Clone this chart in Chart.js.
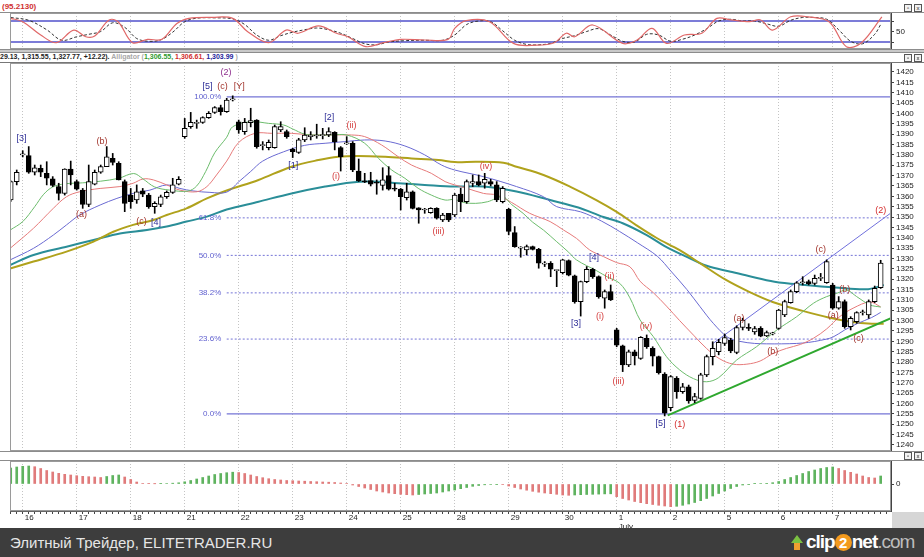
<!DOCTYPE html>
<html>
<head>
<meta charset="utf-8">
<title>RTS 1H — Alligator</title>
<script src="https://cdn.jsdelivr.net/npm/chart.js@4.4.1/dist/chart.umd.min.js"></script>
<style>
  html, body { margin: 0; padding: 0; }
  body { width: 924px; height: 557px; position: relative; overflow: hidden; background: #fff;
         font-family: 'Liberation Sans', Arial, sans-serif; }
  canvas { position: absolute; left: 0; display: block; }
  .line { position: absolute; left: 0; width: 924px; }
  .btns { position: absolute; left: 904px; height: 7px; z-index: 4; }
  .btns span { display: inline-block; width: 6px; height: 6px; border: 1px solid #555; margin-right: 2px;
               font-size: 6px; line-height: 6px; text-align: center; color: #222; background: #f2f2f2; vertical-align: top; }
</style>
</head>
<body>

<div style="position:absolute;left:2px;top:2px;font:bold 8px 'Liberation Sans';color:#d03030">(95.2130)</div>
<div class="btns" style="top:4px"><span>▫</span><span>x</span></div>
<div class="line" style="top:12px;height:1px;background:#8c8c8c"></div>
<canvas id="stochChart" style="top:13px" width="924" height="36"></canvas>
<div class="line" style="top:49px;height:2px;background:#c9c9c9;border-top:1px solid #8c8c8c;border-bottom:1px solid #8c8c8c"></div>

<div style="position:absolute;left:0;top:52px;height:10px;font:bold 7px 'Liberation Sans';line-height:10px;white-space:nowrap">
  <span style="color:#1e1e1e">29.13, 1,315.55, 1,327.77, +12.22).</span>
  <span style="color:#a8a8a8">Alligator (</span><span style="color:#2f9a2f">1,306.55,</span>
  <span style="color:#d02c2c">1,306.61,</span>
  <span style="color:#23239a">1,303.99</span><span style="color:#a8a8a8"> )</span>
</div>
<div class="btns" style="top:54px"><span>▫</span><span>x</span></div>
<div class="line" style="top:62px;height:1px;background:#777"></div>

<canvas id="mainChart" style="top:63px" width="924" height="388"></canvas>
<div class="line" style="top:451px;height:1px;background:#8c8c8c"></div>
<div class="btns" style="top:452px"><span>▫</span><span>x</span></div>
<div class="line" style="top:460px;height:1px;background:#8c8c8c"></div>

<canvas id="aoChart" style="top:461px" width="924" height="69"></canvas>
<div style="position:absolute;left:892px;top:512px;width:32px;height:16px;background:#d6d6d6;z-index:3"></div>

<div style="position:absolute;left:0;top:528px;width:924px;height:29px;background:#3d3d3d;z-index:5">
  <span style="position:absolute;left:10px;top:6px;font-size:15px;color:#e6e6e6;white-space:nowrap">Элитный Трейдер, ELITETRADER.RU</span>
  <span style="position:absolute;left:791px;top:7px;width:0;height:0;border-left:6px solid transparent;border-right:6px solid transparent;border-bottom:8px solid #7bc142"></span>
  <span style="position:absolute;left:794px;top:15px;width:6px;height:7px;background:#f0a030"></span>
  <span style="position:absolute;left:806px;top:3px;font:bold 19px 'Liberation Sans';letter-spacing:-1px;color:#fff;white-space:nowrap">clip<span style="display:inline-block;width:17px;height:17px;border-radius:9px;background:#f39a1e;color:#fff;text-align:center;line-height:17px;font-size:15px;letter-spacing:0">2</span>net<span style="color:#bdbdbd;font-weight:normal">.com</span></span>
</div>

<script>
// ---- axis / calendar ----
const dayLabels = ['16','17','18','21','22','23','24','25','28','29','30','1','2','5','6','7'];
const dayStarts = [0, 9, 18, 27, 36, 45, 54, 63, 72, 81, 90, 99, 108, 117, 126, 135];
const monthLabel = 'July';          // shown under day "1"
const monthStart = 99;
const firstBar = -2;                // two bars of the 15th are still on screen
const X_MIN = -2.12, X_MAX = 144.72;

const priceTicks = [1240,1245,1250,1255,1260,1265,1270,1275,1280,1285,1290,1295,1300,1305,1310,1315,1320,
  1325,1330,1335,1340,1345,1350,1355,1360,1365,1370,1375,1380,1385,1390,1395,1400,1405,1410,1415,1420];
const stochTicks = [20, 50, 80];
const stochLevels = [80, 20];

// ---- hourly candles, bars -2 .. 143 ----
const opens = [1358.2,1367.1,1380.0,1379.6,1371.6,1373.5,1371.1,1368.4,1364.7,1361.4,1373.2,1367.1,1363.0,1356.1,1365.8,1371.6,
  1374.3,1378.3,1375.9,1367.1,1360.6,1358.2,1362.6,1360.6,1355.0,1356.1,1359.8,1361.9,1365.8,1388.8,1393.6,1395.2,1395.7,
  1398.0,1400.5,1402.8,1400.9,1406.5,1396.0,1391.2,1395.5,1396.8,1384.5,1383.5,1383.5,1392.0,1391.2,1382.7,1381.2,1387.2,
  1388.8,1389.1,1389.3,1389.6,1390.9,1383.5,1385.3,1385.6,1372.2,1367.2,1367.6,1366.5,1365.2,1370.0,1363.6,1363.5,1359.4,
  1362.2,1354.5,1353.4,1352.1,1354.2,1348.6,1351.8,1351.0,1361.1,1357.4,1366.3,1367.1,1366.3,1367.1,1365.5,1357.4,1353.7,
  1342.5,1335.0,1334.1,1335.7,1334.4,1327.3,1327.7,1324.1,1323.2,1329.0,1321.6,1309.2,1318.8,1324.8,1321.2,1310.8,1314.0,
  1295.5,1287.8,1278.6,1285.0,1281.8,1291.5,1286.6,1282.6,1274.2,1258.0,1272.2,1265.7,1268.1,1261.5,1262.5,1273.8,1282.6,
  1285.0,1289.0,1290.5,1284.6,1296.7,1296.4,1294.5,1296.3,1292.6,1293.6,1296.3,1302.7,1308.7,1314.0,1318.3,1318.8,1318.0,
  1320.4,1318.3,1317.2,1306.0,1309.2,1297.1,1299.5,1303.8,1302.7,1309.2,1315.9];
const highs = [1367.5,1372.7,1382.0,1384.0,1375.1,1375.1,1376.7,1369.5,1366.3,1373.3,1377.0,1367.9,1363.8,1375.1,1372.7,1375.1,
  1384.0,1380.7,1376.7,1367.9,1363.8,1365.5,1363.8,1361.4,1357.4,1360.6,1362.6,1368.7,1369.5,1397.6,1400.5,1396.8,1398.4,
  1400.9,1403.3,1404.0,1407.3,1408.5,1396.8,1397.6,1402.5,1397.0,1386.4,1387.2,1394.4,1396.0,1392.0,1383.2,1388.0,1393.1,
  1391.2,1394.8,1392.8,1393.1,1391.2,1384.0,1388.8,1386.4,1378.0,1371.1,1371.6,1367.9,1373.8,1374.3,1366.3,1363.8,1366.3,
  1362.6,1354.5,1354.2,1354.5,1354.5,1351.8,1351.8,1361.4,1363.9,1367.9,1370.3,1370.3,1371.1,1368.2,1367.1,1364.7,1354.2,
  1345.4,1335.7,1336.5,1336.0,1334.9,1328.5,1328.5,1324.4,1329.6,1329.3,1322.0,1319.1,1326.1,1325.3,1321.6,1314.8,1317.2,
  1296.3,1288.2,1285.8,1285.8,1292.3,1293.1,1287.4,1282.9,1274.9,1273.5,1273.0,1269.7,1268.9,1264.9,1274.6,1283.4,1289.8,
  1291.0,1293.5,1291.5,1297.5,1301.2,1298.5,1297.2,1297.1,1295.0,1294.4,1305.5,1309.9,1314.8,1318.8,1321.2,1319.6,1322.0,
  1322.8,1329.3,1318.0,1311.6,1310.0,1301.9,1304.3,1305.1,1310.0,1316.7,1329.13];
const lows = [1357.5,1365.5,1379.0,1371.1,1370.3,1369.5,1365.5,1364.7,1358.2,1360.6,1365.5,1363.0,1354.2,1355.0,1365.5,1371.1,
  1374.3,1375.1,1367.9,1352.6,1354.2,1356.6,1359.8,1354.2,1351.8,1355.0,1359.0,1361.4,1365.5,1388.0,1392.8,1392.8,1395.2,
  1397.6,1400.0,1399.2,1400.5,1406.0,1390.4,1389.9,1393.5,1383.2,1382.4,1382.4,1383.2,1391.2,1388.0,1378.7,1380.7,1386.4,
  1387.2,1388.0,1387.7,1388.8,1382.4,1372.2,1385.0,1371.9,1367.1,1366.6,1365.0,1361.0,1363.0,1363.0,1362.6,1353.4,1358.2,
  1353.9,1347.0,1351.8,1351.8,1349.0,1347.8,1347.8,1350.2,1352.6,1356.6,1364.7,1365.0,1363.9,1365.0,1357.4,1356.8,1341.4,
  1335.4,1330.6,1331.7,1334.1,1325.3,1326.1,1321.2,1316.4,1322.5,1321.6,1308.4,1302.2,1318.3,1320.4,1310.8,1306.0,1309.7,
  1287.4,1275.4,1277.8,1278.6,1281.3,1286.6,1278.1,1274.2,1254.0,1256.5,1262.5,1264.9,1260.1,1260.4,1262.0,1273.0,1278.6,
  1283.5,1288.0,1284.5,1284.0,1295.5,1295.2,1293.4,1292.2,1292.3,1293.1,1295.8,1301.9,1308.4,1313.5,1317.2,1317.2,1317.2,
  1319.3,1318.0,1305.5,1305.5,1296.3,1295.5,1298.7,1302.7,1301.1,1308.7,1315.55];
const closes = [1367.1,1371.6,1380.5,1371.6,1373.8,1371.6,1368.7,1365.2,1361.4,1373.2,1370.3,1363.5,1356.1,1367.1,1371.6,1374.3,
  1379.1,1376.4,1367.9,1356.6,1357.4,1362.2,1361.0,1355.0,1356.6,1359.8,1361.9,1365.5,1368.2,1392.8,1395.7,1395.5,1398.0,
  1400.0,1402.8,1400.9,1406.5,1407.0,1392.0,1395.7,1396.5,1384.0,1384.8,1386.0,1393.6,1393.6,1388.8,1381.6,1387.2,1389.6,
  1389.6,1389.3,1389.5,1391.2,1386.4,1379.1,1385.6,1372.7,1367.4,1367.0,1365.8,1366.3,1367.9,1363.5,1363.5,1359.8,1362.2,
  1354.2,1353.4,1353.6,1354.2,1349.4,1351.0,1348.6,1360.6,1357.4,1367.1,1367.1,1365.5,1368.2,1365.8,1358.2,1363.9,1343.0,
  1335.7,1335.2,1335.7,1334.4,1327.7,1327.5,1324.8,1324.3,1329.3,1322.0,1309.2,1318.8,1324.8,1321.2,1311.6,1314.0,1310.0,
  1288.2,1278.6,1285.0,1283.0,1292.0,1287.4,1282.9,1274.9,1255.3,1273.0,1265.7,1268.1,1261.2,1263.3,1273.8,1282.6,1286.6,
  1289.5,1291.8,1285.4,1296.7,1300.3,1296.3,1296.2,1292.5,1294.2,1293.8,1305.1,1309.2,1314.0,1318.3,1318.5,1317.7,1320.4,
  1320.6,1328.5,1306.0,1309.2,1297.1,1301.1,1303.9,1304.0,1309.2,1315.55,1327.77];

// ---- Alligator: jaw (blue), teeth (red), lips (green) — read at bar positions ----
const lipsAt = [-2.1,0,2,3.5,5,7,10,13,16,18.5,20,22,24.5,27.5,29,30.5,32,34,35,38,41,43.5,45,47,49,51.5,54,57,59.3,61.5,
  63.7,65.9,68.1,70.4,72,73.5,75.5,77.5,80,81.5,83.4,85,86.8,89,91,92.3,95.7,97.5,99.5,101.2,102.9,105.1,107.3,109.5,111.8,
  114,116,119,122.3,125.7,129,131.8,134,135.7,137.3,139,141.2,143];
const lipsVal = [1343.7,1347.8,1355,1361,1364.5,1366,1366.5,1367.3,1368.7,1371,1368.5,1364.5,1363,1362.5,1365,1372,1381,
  1388.5,1393.6,1396,1395.2,1394.4,1392.5,1390,1389.6,1389.6,1389.6,1385.6,1378.3,1372.7,1368.7,1363.9,1360.6,1358.2,1358.5,
  1357,1356.6,1357.4,1359.8,1356,1351.8,1347.5,1343.7,1338.1,1333,1329.3,1324,1321,1318,1311,1300.3,1292.3,1282.6,1276.2,
  1272,1270.5,1272.5,1281,1287.4,1295.5,1301.9,1308.4,1311.6,1313.2,1314.8,1311.6,1307.6,1306.55];
const teethAt = [-2.1,1.8,5.1,7.3,9.5,12.9,16.2,18.4,20.1,21.8,24,26.2,29,30.7,32.3,34,36,38.7,41.5,44.8,48.1,51.5,54.8,57,
  59.8,62.6,64.8,68.1,70.4,72,74,76.8,79,81.5,84.5,87.9,90.1,92.3,94.5,96.8,99,101.2,102.9,105.1,107.3,109.5,111.8,114,
  116.2,118.4,120.7,122.9,125.1,127.3,129.6,131.8,134,136.2,138.4,141.2,143];
const teethVal = [1334.9,1344.6,1354.2,1359.8,1362.2,1363.8,1364.7,1366.3,1368.4,1367.9,1365.5,1363,1362.2,1364.7,1370.3,
  1377,1386,1390.4,1390.4,1390.4,1389.6,1389.6,1389.6,1388.8,1384.8,1379.1,1375.1,1371.1,1367.1,1365.5,1363.9,1361.4,
  1360.6,1357,1351.8,1347.8,1343.8,1339.7,1334.1,1330.9,1328,1326,1319,1313.5,1307,1300,1293,1286.5,1281.5,1279,1279,
  1280.5,1284.2,1286.6,1288.5,1291.5,1296,1302,1306,1309,1306.61];
const jawAt = [-2.1,1.8,5.1,7.3,9.5,12.9,15.7,18.4,21.2,24,26.2,28.4,31.2,34,36,38,40,43.5,47,50.4,53.7,57,60.4,63.7,67,
  69.8,72,76.8,82.3,86.8,89,93,96.5,99.5,102.5,105.8,108,110.7,112.9,115.1,117.5,119.5,122,124,126.5,129,131,133,135,137,
  139.2,141.5,143];
const jawVal = [1329.3,1334.9,1341.3,1346.2,1351,1355.8,1359,1361.4,1363,1365.5,1363.8,1362.6,1361.9,1362,1367,1372,1377,
  1381.5,1384.6,1385.6,1386.4,1387.2,1386.7,1384.3,1380,1375.1,1372.7,1369.5,1364.7,1359.8,1355,1352.5,1348,1343,1337.5,
  1331,1324,1315,1306.7,1298.7,1292,1290,1289,1288.8,1288.8,1289,1289.5,1290.5,1292,1295.5,1298.7,1301.5,1303.99];

// ---- two slower moving averages ----
const oliveAt = [-2.1,1.8,7.3,11.8,15.1,18.4,21.8,24,27.3,30.7,34,39.3,44.8,49.3,52.6,55.9,60.4,64.8,69.3,72,75.6,80.1,
  82.3,86.8,91.2,95.6,99,102.3,105.6,109.5,113,117,121,125,130,134.3,138,141.5,143.5];
const oliveVal = [1325.2,1328.5,1333.3,1338.1,1342.9,1346.2,1348.6,1351,1354.2,1359,1362.8,1367.9,1374.3,1377.5,1379.1,
  1379.5,1379.1,1378.3,1377.5,1376.5,1376.7,1376.2,1374.3,1370.3,1364.7,1358.2,1352.5,1346,1340,1334,1327.5,1320,1314,
  1309,1304.7,1301.5,1299.5,1298.5,1298.5];
const tealAt = [-2.1,1.8,7.3,11.8,16.2,20.7,24,27.3,30.7,34,39.3,44.8,50.4,54.8,58.1,62.6,67,72,76.8,82.3,87.9,92.6,96.8,
  100,104,107,110.5,114,118,121,125.3,130.4,135.4,140.9,143.5];
const tealVal = [1326.8,1331.7,1335.7,1338.9,1342.1,1343.7,1345.4,1347.8,1350.2,1353.6,1357.4,1361.4,1364.7,1366.7,1367.1,
  1366.3,1365.5,1364.7,1364.7,1362.3,1358.2,1354.6,1350,1347,1341.3,1336,1331,1326.5,1323.6,1321.5,1318.8,1317.2,1316,
  1315.2,1317.2];

// ---- drawn tools ----
const fibNames = ['100.0%', '61.8%', '50.0%', '38.2%', '23.6%', '0.0%'];
const fibLevels = [1408, 1349.6, 1331.5, 1313.4, 1291.1, 1255];
const fibStartIdx = 34, fibLabelIdx = 33.1;
const supportAt = [107.5, 144.72], supportVal = [1254.3, 1301.2];
const channelAt = [115.1, 144.72], channelVal = [1289.1, 1352];

const waveText = ['[3]','(b)','(a)','(c)','[4]','(2)','[5]','(c)','[Y]','[1]','[2]','(ii)','(i)','(iii)','(iv)','[4]',
  '(ii)','[3]','(i)','(iv)','(iii)','[5]','(1)','(a)','(b)','(c)','(b)','(a)','(c)','(2)'];
const waveIdx = [-0.2,13.2,9.8,19.8,22.2,33.9,30.8,33.3,36.1,45.1,51.1,54.8,52.2,69.3,77.2,95.2,97.8,92.2,96.2,103.9,99.3,
  106.3,109.5,119.4,125,133,137,135.1,139.3,143];
const wavePrice = [1388,1386.4,1351.3,1347.8,1347.4,1419.7,1413.2,1413.2,1413.2,1375.1,1398,1394.1,1369.5,1342.9,1374.6,
  1330.6,1321.2,1298.7,1301.9,1297.4,1270.6,1250.4,1249.8,1301.1,1285,1334.1,1314.8,1302.7,1291.5,1353.1];
const waveKind = ['sq','abc','abc','abc','sq','maj','sq','abc','abc','sq','sq','rom','rom','rom','rom','sq','rom','sq',
  'rom','rom','rom','sq','majr','abc','abc','abc','abc','abc','abc','majr'];

// ---- stochastic (%K red, %D dashed) ----
const kAt = [-2,0,3,5.6,8.5,10.5,12,14.4,15.9,18.3,20.8,23.2,25.7,27.7,31.6,35,37.5,41,43.9,45.9,49.3,52.3,54.2,57.2,60.1,
  63.1,67,70.9,72,73.9,77.8,81.8,85.7,88.6,90.6,92,95,100,102.4,104.9,107.3,110.3,113.2,115.7,118.1,121.1,123,125,128,
  130.9,134.4,137.3,139.8,143.2];
const kVal = [87.6,78,40,18,54,35,37,83,78,18,27.6,27.6,73,87.6,90.5,87.6,49.5,18,54,45,66,45,35,6.7,18,27.6,25.7,27.6,59,
  81,78,16,11,18,45,35,68.6,16,25.7,59,16,40,45,87.6,83,78,83,54,92,92,78,6.7,18,92];
const dAt = [-2,1,4,6.5,9,11,13,15,17,19,21,23,25,27,29,32,35,37,39,41,43,45,47,49,51,53,55,57,59,61,64,67,70,72,74,76,78,
  80,82,84,86,88,90,92,94,96,98,100,102,104,106,108,110,112,114,116,118,120,122,124,126,128,130,132,134,136,138,140,142,143];
const dVal = [90,82,55,25,35,42,50,75,62,30,22,26,48,78,88,89,86,70,40,25,38,48,55,60,55,45,30,15,12,20,24,25,25,40,70,80,
  78,52,25,13,12,16,30,38,50,58,40,22,20,42,40,22,28,40,58,80,85,80,80,72,65,82,90,90,85,55,22,15,42,70];

// ---- oscillator histogram, bars -2 .. 143 ----
const aoVals = [16.0,17.0,17.7,18.0,17.3,15.5,13.5,12.0,10.7,9.7,9.0,8.3,7.7,7.3,7.0,6.5,7.5,8.5,9.0,7.0,4.5,2.0,0.6,0.3,
  0.2,0.3,0.5,0.8,1.2,2.2,3.5,5.0,6.5,8.0,9.5,10.5,11.3,11.8,11.5,10.5,9.0,7.5,6.3,5.3,4.5,4.0,3.5,3.3,3.0,2.8,2.5,2.3,2.0,
  1.8,1.5,1.0,0.4,-1.0,-2.5,-4.0,-5.5,-7.0,-8.0,-9.0,-9.7,-10.3,-10.7,-11.0,-10.5,-10.0,-9.5,-9.0,-8.0,-7.0,-6.0,-4.7,-3.5,
  -2.3,-1.5,-0.8,-0.5,-0.3,-0.6,-2.0,-3.5,-5.0,-6.2,-7.3,-8.2,-9.0,-9.7,-10.3,-11.0,-11.3,-11.0,-10.7,-10.5,-10.3,-10.1,
  -9.9,-9.8,-12.7,-14.5,-16.0,-17.5,-18.7,-19.7,-20.5,-21.3,-22.0,-22.7,-22.3,-21.3,-20.0,-18.5,-16.7,-14.5,-12.0,-9.5,
  -7.0,-4.5,-2.5,-1.0,-0.3,0.3,0.5,0.7,1.3,2.5,4.5,6.5,8.5,10.5,12.5,14.0,15.5,16.5,17.0,15.5,13.5,11.7,10.0,8.0,6.5,6.0,8.0];

// ---------------------------------------------------------------------------
const FONT = 'Liberation Sans';
const barIdx = opens.map((_, i) => i + firstBar);
const pts = (xs, ys) => xs.map((x, i) => ({ x, y: ys[i] }));

function lineDs(data, color, width, extra) {
    return Object.assign({
        type: 'line', data, borderColor: color, borderWidth: width,
        pointRadius: 0, tension: 0.35, fill: false
    }, extra || {});
}

// vertical dotted day lines only, no labels
function hiddenX() {
    return {
        type: 'linear', min: X_MIN, max: X_MAX, offset: false,
        afterBuildTicks: s => { s.ticks = dayStarts.map(v => ({ value: v })); },
        ticks: { display: false },
        grid: { color: '#c4c4c4', drawTicks: false, offset: false },
        border: { display: false, dash: [1, 2] },
        afterFit: s => { s.height = 0; s.paddingLeft = 0; s.paddingRight = 0; }
    };
}

function rightAxis(min, max, tickVals, labelFn) {
    return {
        position: 'right', min, max,
        afterBuildTicks: s => { s.ticks = tickVals.map(v => ({ value: v })); },
        ticks: { autoSkip: false, padding: 2, color: '#222', font: { family: FONT, size: 8 }, callback: labelFn },
        grid: { drawOnChartArea: false, tickLength: 3, color: '#444' },
        border: { color: '#444' },
        // keep the plot area exactly on the canvas edges (no room reserved for half labels)
        afterFit: s => { s.width = 33; s.paddingTop = 0; s.paddingBottom = 0; }
    };
}

const framePlugin = {
    id: 'frame',
    afterDraw(chart) {
        const { ctx, chartArea: a } = chart;
        ctx.save();
        ctx.strokeStyle = '#9a9a9a';
        ctx.lineWidth = 1;
        ctx.strokeRect(Math.round(a.left) + 0.5, Math.round(a.top) + 0.5,
            Math.round(a.right - a.left) - 1, Math.round(a.bottom - a.top) - 1);
        ctx.restore();
    }
};

const waveColors = { sq: '#2c2c96', abc: '#a2342c', rom: '#d43c3c', maj: '#8e2e8e', majr: '#d42a2a' };

const annotatePlugin = {
    id: 'annotate',
    afterDatasetsDraw(chart) {
        const { ctx, scales: { x, y }, chartArea: a } = chart;
        ctx.save();
        ctx.beginPath();
        ctx.rect(a.left, a.top, a.right - a.left, a.bottom - a.top);
        ctx.clip();
        ctx.textBaseline = 'middle';
        // fibonacci captions
        ctx.font = `8px "${FONT}"`;
        ctx.fillStyle = '#5f5fcf';
        ctx.textAlign = 'right';
        fibLevels.forEach((lv, k) => {
            ctx.fillText(fibNames[k], x.getPixelForValue(fibLabelIdx), y.getPixelForValue(lv));
        });
        // wave counts
        ctx.font = `9px "${FONT}"`;
        ctx.textAlign = 'center';
        waveText.forEach((t, k) => {
            ctx.fillStyle = waveColors[waveKind[k]];
            ctx.fillText(t, x.getPixelForValue(waveIdx[k]), y.getPixelForValue(wavePrice[k]));
        });
        ctx.restore();
    }
};

const common = {
    responsive: false,
    animation: false,
    events: [],
    layout: { padding: { left: 10, right: 0, top: 0, bottom: 0 } },
    plugins: { legend: { display: false }, tooltip: { enabled: false } }
};

// ---- stochastic pane ----
new Chart(document.getElementById('stochChart'), {
    type: 'line',
    data: {
        datasets: [
            ...stochLevels.map(lv => lineDs([{ x: X_MIN, y: lv }, { x: X_MAX, y: lv }], '#7c7cd8', 2, { tension: 0, order: 5 })),
            lineDs(pts(dAt, dVal), '#333', 1, { borderDash: [3, 2], order: 2 }),
            lineDs(pts(kAt, kVal), '#e06868', 1.2, { order: 1 })
        ]
    },
    options: Object.assign({}, common, {
        scales: {
            x: hiddenX(),
            y: rightAxis(0, 102.86, stochTicks, v => (v === 50 ? '50' : ''))
        }
    }),
    plugins: [framePlugin]
});

// ---- price pane ----
const wickData = barIdx.map((x, i) => ({ x, y: [lows[i], highs[i]] }));
const bodyData = barIdx.map((x, i) => ({ x, y: [Math.min(opens[i], closes[i]), Math.max(opens[i], closes[i])] }));
const bodyFill = barIdx.map((_, i) => (closes[i] >= opens[i] ? '#ffffff' : '#000000'));

new Chart(document.getElementById('mainChart'), {
    type: 'line',
    data: {
        datasets: [
            ...fibLevels.map((lv, k) => {
                const solid = k === 0 || k === fibLevels.length - 1;
                return lineDs([{ x: fibStartIdx, y: lv }, { x: X_MAX, y: lv }], '#7474d6', solid ? 1.3 : 1,
                    { tension: 0, borderDash: solid ? [] : [2, 2], order: 20 });
            }),
            lineDs(pts(tealAt, tealVal), '#2a8e98', 2, { order: 12 }),
            lineDs(pts(oliveAt, oliveVal), '#b0a21c', 2, { order: 11 }),
            lineDs(pts(jawAt, jawVal), '#6a6ad2', 1, { order: 10 }),
            lineDs(pts(teethAt, teethVal), '#e67a7a', 1, { order: 9 }),
            lineDs(pts(lipsAt, lipsVal), '#6cbc6c', 1, { order: 8 }),
            lineDs(pts(supportAt, supportVal), '#2fa82f', 2, { tension: 0, order: 4 }),
            lineDs(pts(channelAt, channelVal), '#7070dc', 1, { tension: 0, order: 4 }),
            { type: 'bar', data: wickData, backgroundColor: '#000', barThickness: 1, grouped: false, order: 1 },
            {
                type: 'bar', data: bodyData, backgroundColor: bodyFill, borderColor: '#000', borderWidth: 1,
                borderSkipped: false, barThickness: 5, minBarLength: 1, grouped: false, order: 0
            }
        ]
    },
    options: Object.assign({}, common, {
        scales: {
            x: hiddenX(),
            y: rightAxis(1237.08, 1424.34, priceTicks, v => String(v))
        }
    }),
    plugins: [framePlugin, annotatePlugin]
});

// ---- oscillator pane + date axis ----
const aoColors = aoVals.map((v, i) => (i === 0 || v > aoVals[i - 1] ? '#5fb35f' : '#e07b7b'));
const barTicks = [];
for (let v = Math.ceil(X_MIN); v <= Math.floor(X_MAX); v++) barTicks.push({ value: v });

new Chart(document.getElementById('aoChart'), {
    type: 'line',
    data: {
        datasets: [{
            type: 'bar', data: pts(barIdx, aoVals), backgroundColor: aoColors,
            barThickness: 2, grouped: false
        }]
    },
    options: Object.assign({}, common, {
        scales: {
            x: {
                type: 'linear', min: X_MIN, max: X_MAX, offset: false,
                afterBuildTicks: s => { s.ticks = barTicks.map(t => ({ value: t.value })); },
                ticks: {
                    autoSkip: false, maxRotation: 0, minRotation: 0, align: 'start', labelOffset: 2, padding: 0,
                    color: '#222', font: { family: FONT, size: 8, lineHeight: 1.05 },
                    callback: v => {
                        const k = dayStarts.indexOf(v);
                        if (k < 0) return '';
                        return v === monthStart ? [dayLabels[k], monthLabel] : dayLabels[k];
                    }
                },
                grid: {
                    color: ctx => (ctx.tick && dayStarts.includes(ctx.tick.value) ? '#c4c4c4' : 'rgba(0,0,0,0)'),
                    tickColor: '#444', tickLength: 3, offset: false
                },
                border: { color: '#666', dash: [1, 2] },
                afterFit: s => { s.height = 19; s.paddingLeft = 0; s.paddingRight = 0; }
            },
            y: rightAxis(-27, 23, [0], v => '0')
        }
    }),
    plugins: [framePlugin]
});
</script>
</body>
</html>
